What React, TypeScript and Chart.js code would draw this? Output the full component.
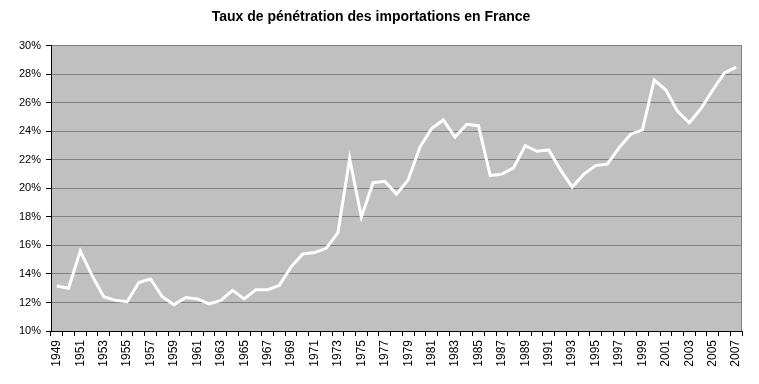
import React, { useEffect, useRef } from "react";
import { Chart, registerables } from "chart.js";

Chart.register(...registerables);

const years: string[] = [
  "1949","1950","1951","1952","1953","1954","1955","1956","1957","1958",
  "1959","1960","1961","1962","1963","1964","1965","1966","1967","1968",
  "1969","1970","1971","1972","1973","1974","1975","1976","1977","1978",
  "1979","1980","1981","1982","1983","1984","1985","1986","1987","1988",
  "1989","1990","1991","1992","1993","1994","1995","1996","1997","1998",
  "1999","2000","2001","2002","2003","2004","2005","2006","2007",
];

const penetration: number[] = [
  13.15, 13.0, 15.6, 13.9, 12.4, 12.15, 12.05, 13.4, 13.65, 12.4,
  11.85, 12.35, 12.25, 11.9, 12.15, 12.85, 12.25, 12.9, 12.9, 13.2,
  14.5, 15.4, 15.5, 15.8, 16.9, 22.1, 18.0, 20.4, 20.5, 19.6,
  20.6, 22.9, 24.2, 24.8, 23.6, 24.5, 24.4, 20.9, 21.0, 21.45,
  23.0, 22.6, 22.7, 21.3, 20.1, 21.0, 21.6, 21.7, 22.85, 23.8,
  24.1, 27.6, 26.9, 25.4, 24.6, 25.6, 26.9, 28.1, 28.5,
];

const titleText = "Taux de pénétration des importations en France";
const yMin = 10;
const yMax = 30;
const yStep = 2;

const FONT = "'Liberation Sans', Arial, sans-serif";

const plotBg = {
  id: "plotBg",
  beforeDraw(chart: any) {
    const { ctx, chartArea } = chart;
    if (!chartArea) return;
    ctx.save();
    ctx.fillStyle = "#C0C0C0";
    ctx.fillRect(chartArea.left, chartArea.top, chartArea.right - chartArea.left, chartArea.bottom - chartArea.top);
    ctx.restore();
  },
  afterDatasetsDraw(chart: any) {
    const { ctx, chartArea } = chart;
    ctx.save();
    ctx.strokeStyle = "#808080";
    ctx.lineWidth = 1;
    ctx.beginPath();
    ctx.moveTo(chartArea.right - 0.5, chartArea.top);
    ctx.lineTo(chartArea.right - 0.5, chartArea.bottom);
    ctx.stroke();
    ctx.restore();
  },
};

export default function App() {
  const ref = useRef<HTMLCanvasElement | null>(null);

  useEffect(() => {
    if (!ref.current) return;
    const chart = new Chart(ref.current, {
      type: "line",
      data: {
        labels: years,
        datasets: [
          {
            data: penetration,
            borderColor: "#FFFFFF",
            borderWidth: 3,
            pointRadius: 0,
            tension: 0,
            fill: false,
          },
        ],
      },
      options: {
        responsive: false,
        animation: false,
        layout: { padding: { left: 0, right: 17, top: 0, bottom: 0 } },
        plugins: {
          legend: { display: false },
          tooltip: { enabled: false },
          title: {
            display: true,
            text: titleText,
            color: "#000",
            font: { family: FONT, size: 14, weight: "bold" },
            padding: { top: 9, bottom: 20 },
          },
        },
        scales: {
          x: {
            type: "category",
            offset: true,
            grid: {
              offset: true,
              drawOnChartArea: false,
              drawTicks: true,
              tickLength: 5,
              color: "#000",
            },
            border: { color: "#000", width: 1 },
            ticks: {
              autoSkip: false,
              maxRotation: 90,
              minRotation: 90,
              padding: 4,
              color: "#000",
              font: { family: FONT, size: 12 },
              callback: (_v: any, i: number) => (i % 2 === 0 ? years[i] : ""),
            },
            afterFit: (s: any) => {
              s.height = 53;
            },
          },
          y: {
            min: yMin,
            max: yMax,
            grid: {
              color: "#808080",
              tickColor: "#000",
              tickLength: 5,
              lineWidth: 1,
            },
            border: { color: "#000", width: 1 },
            ticks: {
              stepSize: yStep,
              padding: 5,
              color: "#000",
              font: { family: FONT, size: 11 },
              callback: (v: any) => `${v}%`,
            },
            afterFit: (s: any) => {
              s.width = 51;
            },
          },
        },
      },
      plugins: [plotBg],
    });
    return () => chart.destroy();
  }, []);

  return (
    <div style={{ position: "fixed", left: 0, top: 0, width: 759, height: 384, background: "#fff" }}>
      <canvas ref={ref} width={759} height={384} style={{ display: "block" }} />
    </div>
  );
}
